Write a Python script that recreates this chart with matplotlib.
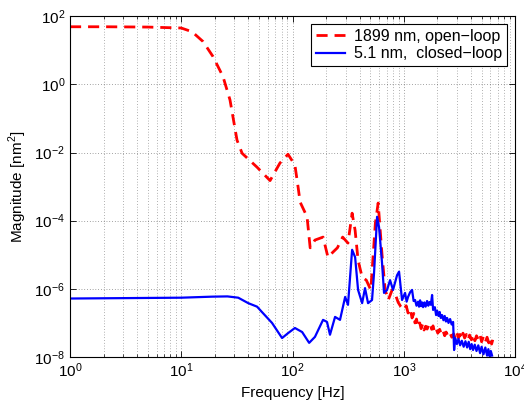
import matplotlib
matplotlib.use("Agg")
import matplotlib.pyplot as plt
from matplotlib.ticker import LogLocator, NullLocator, NullFormatter

plt.rcParams['font.family'] = ['Liberation Sans', 'DejaVu Sans']
plt.rcParams['mathtext.fontset'] = 'custom'
plt.rcParams['mathtext.rm'] = 'Liberation Sans'

# open-loop spectrum (red, dashed)
freq_open = [1, 2, 5, 10, 12.5, 15.7, 19.3, 23.7, 27.4, 31.7, 35.2, 48, 62.8, 77, 91, 105,
             112, 117, 135, 144, 159, 188, 208, 231, 253, 282, 315, 343, 365, 388, 422, 460,
             505, 555, 588, 637, 680, 725, 785, 830, 890, 940, 1000, 1050, 1092, 1140, 1186,
             1230, 1260, 1300, 1343, 1390, 1430, 1480, 1520, 1570, 1620, 1670, 1720, 1780,
             1830, 1890, 1950, 2020, 2100, 2180, 2255, 2330, 2400, 2500, 2600, 2700, 2800,
             2900, 3000, 3100, 3200, 3300, 3400, 3520, 3650, 3780, 3900, 4050, 4200, 4350,
             4500, 4680, 4850, 5000, 5200, 5400, 5600, 5800, 6000, 6150, 6300]
mag_open = [49, 49, 48, 45, 35, 18, 6.5, 1.7, 0.35, 0.023, 0.0095, 0.0037, 0.0015, 0.0049,
            0.0089, 0.0043, 0.001, 3.5e-4, 1.3e-4, 1.6e-5, 2.7e-5, 3.3e-5, 8.5e-6, 1.2e-5,
            1.6e-5, 3.3e-5, 2.2e-5, 1.66e-4, 5.2e-5, 6.9e-6, 2.2e-6, 1.8e-6, 9.3e-7, 8.5e-5,
            3.3e-4, 1.0e-5, 9.3e-7, 4.7e-7, 9.3e-7, 7.6e-7, 4.0e-7, 3.0e-7, 2.4e-7, 3.2e-7,
            1.95e-7, 2.6e-7, 1.4e-7, 1.9e-7, 1.0e-7, 1.3e-7, 7.6e-8, 1.0e-7, 6.8e-8, 9.5e-8,
            6.2e-8, 8.0e-8, 6.6e-8, 9.0e-8, 1.0e-7, 6.5e-8, 8.2e-8, 5.4e-8, 6.8e-8, 5.0e-8,
            6.5e-8, 4.6e-8, 5.8e-8, 4.2e-8, 5.4e-8, 4.0e-8, 5.0e-8, 3.8e-8, 4.8e-8, 3.6e-8,
            5.2e-8, 3.6e-8, 4.6e-8, 3.4e-8, 5.0e-8, 3.6e-8, 4.6e-8, 3.2e-8, 4.4e-8, 3.2e-8,
            4.6e-8, 3.0e-8, 4.2e-8, 3.2e-8, 4.4e-8, 2.8e-8, 4.0e-8, 2.75e-8, 3.8e-8, 2.6e-8,
            3.6e-8, 2.4e-8, 3.2e-8]

# closed-loop spectrum (blue, solid)
freq_closed = [1, 10, 19, 26, 32.5, 40, 48, 53, 65.4, 80.5, 91, 105, 122, 141, 159, 188, 204,
               217, 241, 267, 297, 315, 343, 365, 388, 422, 448, 477, 518, 540, 575, 599, 637,
               664, 707, 752, 800, 869, 906, 964, 1026, 1060, 1092, 1140, 1186, 1225, 1262,
               1300, 1343, 1370, 1400, 1430, 1459, 1490, 1530, 1570, 1618, 1660, 1700, 1750,
               1795, 1833, 1900, 1950, 1991, 2050, 2100, 2150, 2208, 2270, 2330, 2390, 2449,
               2520, 2606, 2690, 2773, 2831, 2900, 3000, 3100, 3205, 3320, 3450, 3580, 3706,
               3830, 3950, 4070, 4190, 4340, 4500, 4670, 4845, 5000, 5200, 5400, 5600, 5750,
               5900, 6050, 6210]
mag_closed = [5.2e-7, 5.5e-7, 5.9e-7, 6.0e-7, 5.5e-7, 3.8e-7, 3.0e-7, 2.1e-7, 1.0e-7, 3.6e-8,
              5.0e-8, 7.1e-8, 5.4e-8, 2.6e-8, 3.9e-8, 1.23e-7, 1.07e-7, 4.5e-8, 1.5e-7,
              1.23e-7, 5.8e-7, 3.4e-7, 1.4e-5, 8.5e-6, 9.3e-7, 3.8e-7, 1.05e-6, 3.8e-7, 4.7e-7,
              2.9e-6, 1.3e-4, 6.5e-5, 5.8e-6, 7.6e-7, 9.3e-7, 1.8e-6, 9.3e-7, 2.5e-6, 3.2e-6,
              4.7e-7, 7.6e-7, 4.2e-7, 5.8e-7, 8.0e-7, 9.3e-7, 4.4e-7, 4.7e-7, 3.2e-7, 4.2e-7,
              3.0e-7, 4.6e-7, 3.1e-7, 4.0e-7, 2.9e-7, 4.0e-7, 3.0e-7, 4.4e-7, 3.2e-7, 4.1e-7,
              3.4e-7, 6.6e-7, 2.4e-7, 2.9e-7, 1.7e-7, 2.3e-7, 1.6e-7, 2.1e-7, 1.4e-7, 1.7e-7,
              1.2e-7, 1.6e-7, 1.1e-7, 1.4e-7, 1.0e-7, 1.3e-7, 0.9e-7, 1.07e-7, 1.6e-8, 3.6e-8,
              2.4e-8, 3.4e-8, 2.2e-8, 3.0e-8, 2.0e-8, 2.9e-8, 1.9e-8, 2.8e-8, 1.7e-8, 2.4e-8,
              1.6e-8, 2.3e-8, 1.5e-8, 2.2e-8, 1.3e-8, 2.0e-8, 1.2e-8, 1.9e-8, 1.1e-8, 1.7e-8,
              1.05e-8, 1.5e-8, 1.1e-8]

fig = plt.figure(figsize=(5.24, 4.05), dpi=100)
ax = fig.add_axes([0.1336, 0.1185, 0.8494, 0.8415])

ax.loglog(freq_open, mag_open, color='red', linestyle='--', linewidth=2.0,
          dashes=(4, 2.5), label='1899 nm, open\u2212loop')
ax.loglog(freq_closed, mag_closed, color='blue', linewidth=1.6,
          label='5.1 nm,  closed\u2212loop')

ax.set_xlim(1, 1e4)
ax.set_ylim(1e-8, 1e2)
ax.set_xticks([1, 10, 100, 1000, 10000])
ax.xaxis.set_minor_locator(LogLocator(base=10, subs=range(2, 10), numticks=20))
ax.xaxis.set_minor_formatter(NullFormatter())
ax.set_yticks([1e-8, 1e-6, 1e-4, 1e-2, 1, 1e2])
ax.yaxis.set_minor_locator(NullLocator())

ax.tick_params(which='both', direction='in', top=True, right=True, labelsize=11)
ax.tick_params(which='major', length=4, width=0.6)
ax.tick_params(which='minor', length=2, width=0.5)
for s in ax.spines.values():
    s.set_linewidth(0.8)

ax.grid(True, which='major', linestyle=(0, (1, 3)), color='k', linewidth=0.5, alpha=0.7)
ax.grid(True, which='minor', axis='x', linestyle=(0, (1, 3)), color='k', linewidth=0.5, alpha=0.6)

ax.set_xlabel('Frequency [Hz]', fontsize=11)
ax.set_ylabel('Magnitude [nm$^2$]', fontsize=11)

leg = ax.legend(loc='upper right', fontsize=11.5, fancybox=False, framealpha=1,
                edgecolor='k', borderaxespad=0.5, handlelength=1.8, handletextpad=0.6,
                labelspacing=0.15, borderpad=0.3)
leg.get_frame().set_linewidth(0.8)

fig.savefig('out.png', dpi=100)
